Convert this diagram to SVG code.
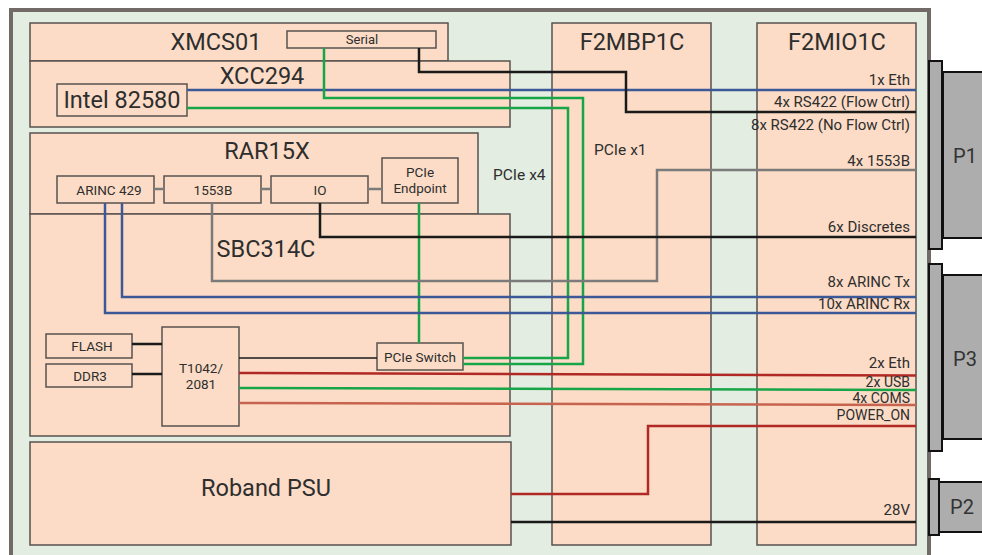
<svg xmlns="http://www.w3.org/2000/svg" width="982" height="555" viewBox="0 0 982 555">
<style>
.board{fill:#fcdcc6;stroke:#57524f;stroke-width:1.5}
.chip{fill:#fcdcc6;stroke:#57524f;stroke-width:1.5}
.conn{fill:#adadad;stroke:#111;stroke-width:2}
text{font-family:Roboto,"Liberation Sans",sans-serif;fill:#2e2e2e}
.title{font-size:23.5px;text-anchor:middle}
.small{font-size:13.5px;text-anchor:middle}
.lbl{font-size:15px;text-anchor:end}
.tight{font-size:14px}
.mid{font-size:15.5px}
.w{fill:none;stroke-width:2.5}
.blue{stroke:#3c5997}
.green{stroke:#17a548}
.black{stroke:#1a1a1a}
.gray{stroke:#7b7b7b}
.red{stroke:#b02925}
.coral{stroke:#c6644f}
</style>
<rect x="0" y="0" width="982" height="555" fill="#fff"/>
<rect id="chassis" x="11" y="10" width="918" height="560" fill="#e3ede1" stroke="#716a67" stroke-width="4"/>

<g id="XMCS01">
<rect class="board" x="30" y="23" width="418" height="38"/>
<text class="title" x="216" y="50">XMCS01</text>
</g>
<g id="XCC294">
<rect class="board" x="30" y="61" width="480" height="66"/>
<text class="title" x="262" y="84">XCC294</text>
</g>
<g id="Serial">
<rect class="chip" x="287" y="31" width="149" height="17"/>
<text class="small" x="362" y="44" style="font-size:13px">Serial</text>
</g>
<g id="Intel82580">
<rect class="chip" x="57" y="84" width="130" height="32"/>
<text class="title" x="122" y="108">Intel 82580</text>
</g>
<g id="RAR15X">
<rect class="board" x="30" y="133" width="448" height="81"/>
<text class="title" x="267" y="159">RAR15X</text>
</g>
<g id="SBC314C">
<rect class="board" x="30" y="214" width="480" height="222"/>
<text class="title" x="266" y="257">SBC314C</text>
</g>
<g id="ARINC429">
<rect class="chip" x="57" y="176" width="97" height="27"/>
<text class="small" x="109" y="195">ARINC 429</text>
</g>
<g id="B1553">
<rect class="chip" x="164" y="176" width="97" height="27"/>
<text class="small" x="213" y="195">1553B</text>
</g>
<g id="IO">
<rect class="chip" x="271" y="176" width="97" height="27"/>
<text class="small" x="320" y="195">IO</text>
</g>
<g id="PCIeEndpoint">
<rect class="chip" x="382" y="158" width="76" height="45"/>
<text class="small" x="420" y="177">PCIe</text>
<text class="small" x="420" y="193">Endpoint</text>
</g>
<g id="FLASH">
<rect class="chip" x="46" y="334" width="86" height="24"/>
<text class="small" x="92" y="351">FLASH</text>
</g>
<g id="DDR3">
<rect class="chip" x="46" y="364" width="86" height="23"/>
<text class="small" x="90" y="381">DDR3</text>
</g>
<g id="T1042">
<rect class="chip" x="162" y="327" width="77" height="99"/>
<text class="small" x="201" y="373">T1042/</text>
<text class="small" x="201" y="389">2081</text>
</g>
<g id="PCIeSwitch">
<rect class="chip" x="377" y="343" width="86" height="27"/>
<text class="small" x="420" y="362">PCIe Switch</text>
</g>
<g id="RobandPSU">
<rect class="board" x="30" y="442" width="481" height="103"/>
<text class="title" x="266" y="496">Roband PSU</text>
</g>
<g id="F2MBP1C">
<rect class="board" x="552" y="23" width="159" height="522"/>
<text class="title" x="632" y="50">F2MBP1C</text>
</g>
<g id="F2MIO1C">
<rect class="board" x="757" y="23" width="159" height="522"/>
<text class="title" x="837" y="50">F2MIO1C</text>
</g>
<g id="P1">
<rect class="conn" x="943" y="72" width="45" height="166"/>
<rect class="conn" x="929" y="61" width="13" height="188"/>
<text x="965" y="163" style="font-size:20px;text-anchor:middle;fill:#333">P1</text>
</g>
<g id="P3">
<rect class="conn" x="943" y="275" width="45" height="164"/>
<rect class="conn" x="929" y="264" width="13" height="187"/>
<text x="965" y="366" style="font-size:20px;text-anchor:middle;fill:#333">P3</text>
</g>
<g id="P2">
<rect class="conn" x="939" y="482" width="49" height="50"/>
<rect class="conn" x="929" y="479" width="10" height="56"/>
<text x="962" y="514" style="font-size:20px;text-anchor:middle;fill:#333">P2</text>
</g>

<g id="connectors">
<path class="w gray" d="M154,189H164M261,189H271M368,189H382"/>
<path class="w blue" d="M187,90H916"/>
<path class="w black" d="M419,48V72H626V112H916"/>
<path class="w green" d="M324,48V98H583V364H463"/>
<path class="w green" d="M187,108H568V358H463"/>
<path class="w green" d="M419,203V343"/>
<path class="w gray" d="M212,203V281H657V170H916"/>
<path class="w black" d="M320,203V237H916"/>
<path class="w blue" d="M122,203V297H916"/>
<path class="w blue" d="M105,203V313H916"/>
<path class="w black" d="M132,344H162M132,374H162"/>
<path class="w black" style="stroke-width:1.6" d="M239,358H377"/>
<path class="w red" d="M239,373L916,375.5"/>
<path class="w green" d="M239,388L916,390"/>
<path class="w coral" d="M239,403L916,405"/>
<path class="w red" d="M511,494H648V426H916"/>
<path class="w black" d="M511,522H916"/>
</g>

<g id="labels">
<text class="mid" x="493" y="180">PCIe x4</text>
<text class="mid" x="594" y="155">PCIe x1</text>
<text class="lbl" x="910" y="85">1x Eth</text>
<text class="lbl" x="910" y="107">4x RS422 (Flow Ctrl)</text>
<text class="lbl" x="910" y="130">8x RS422 (No Flow Ctrl)</text>
<text class="lbl" x="910" y="166">4x 1553B</text>
<text class="lbl" x="910" y="232">6x Discretes</text>
<text class="lbl" x="910" y="287">8x ARINC Tx</text>
<text class="lbl" x="910" y="309">10x ARINC Rx</text>
<text class="lbl" x="910" y="368">2x Eth</text>
<text class="lbl tight" x="910" y="386.5">2x USB</text>
<text class="lbl tight" x="910" y="403">4x COMS</text>
<text class="lbl tight" x="910" y="419.5">POWER_ON</text>
<text class="lbl" x="910" y="515">28V</text>
</g>
</svg>
